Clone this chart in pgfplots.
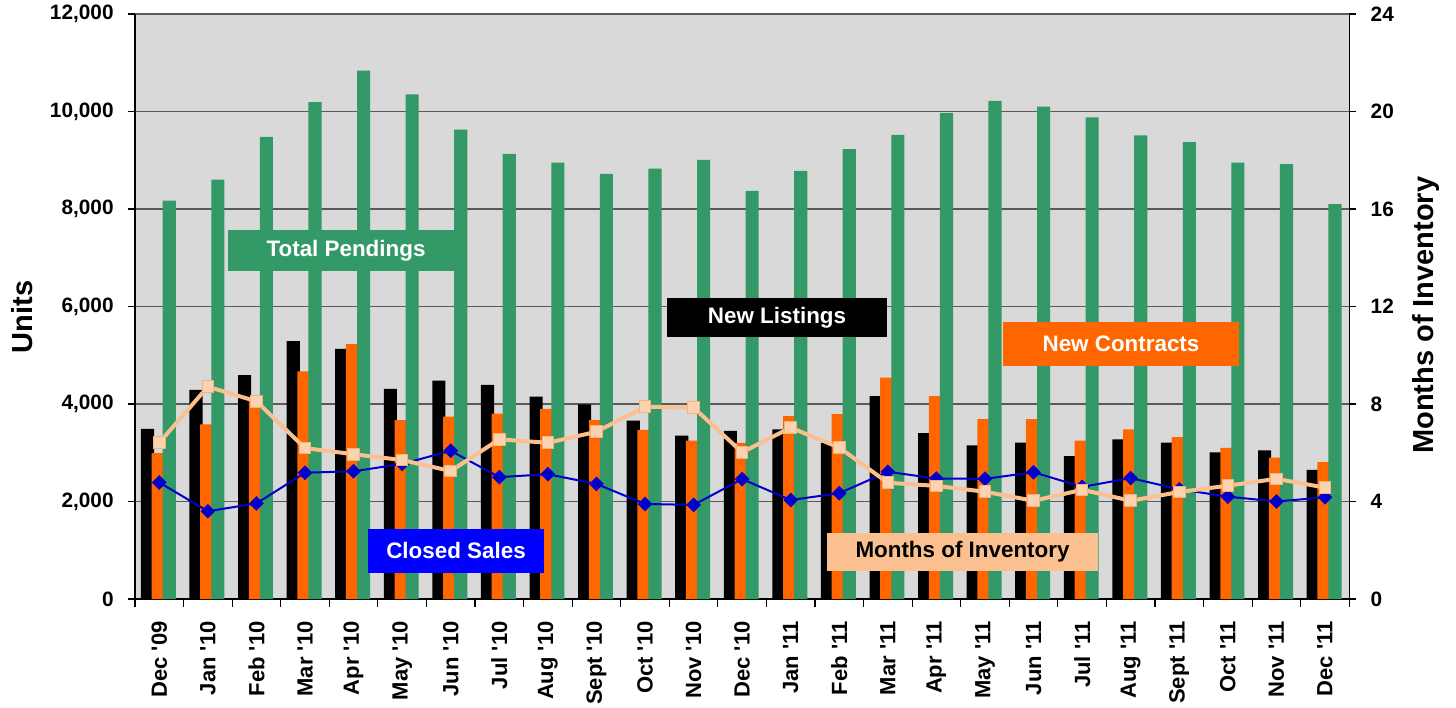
\documentclass[border=0pt]{standalone}
\usepackage{pgfplots}
\pgfplotsset{compat=1.18}
\usepackage{pgfplotstable}
\usepackage{fontspec}
\setmainfont{Liberation Sans}
\definecolor{bggray}{HTML}{D9D9D9}
\definecolor{tpgreen}{HTML}{339966}
\definecolor{ncorange}{HTML}{FF6600}
\definecolor{csblue}{HTML}{0000CC}
\definecolor{boxblue}{HTML}{0000FF}
\definecolor{moipeach}{HTML}{FAC090}
\definecolor{moifill}{HTML}{FBD3B0}
\definecolor{moiedge}{HTML}{F5B27A}
\definecolor{gridgray}{HTML}{5A5A5A}

\pgfplotstableread{
x NL NC TP CS MOI
0 3490 2990 8170 2390 6.41
1 4290 3580 8600 1800 8.71
2 4590 4120 9480 1960 8.11
3 5290 4670 10190 2590 6.19
4 5130 5230 10840 2620 5.94
5 4310 3670 10350 2770 5.70
6 4480 3740 9630 3040 5.25
7 4390 3800 9130 2500 6.55
8 4150 3900 8950 2560 6.41
9 3990 3670 8720 2360 6.86
10 3660 3470 8830 1950 7.89
11 3350 3250 9010 1930 7.85
12 3450 3200 8370 2460 6.02
13 3480 3750 8780 2030 7.03
14 3200 3790 9230 2170 6.21
15 4160 4540 9520 2610 4.77
16 3400 4160 9970 2470 4.64
17 3150 3690 10220 2465 4.40
18 3210 3690 10100 2600 4.03
19 2930 3250 9880 2300 4.48
20 3275 3480 9510 2480 4.03
21 3210 3320 9370 2250 4.39
22 3010 3100 8950 2100 4.65
23 3050 2900 8920 2000 4.93
24 2650 2810 8100 2085 4.57
}\data

\begin{document}
\begin{tikzpicture}
\begin{axis}[name=main,
  width=607.15pt, height=292.5pt, scale only axis,
  xmin=-0.5, xmax=24.5, ymin=0, ymax=12000,
  axis background/.style={fill=bggray},
  axis x line*=bottom, axis y line*=left,
  axis line style={-, black, line width=0.8pt},
  ytick={0,2000,...,12000},
  ymajorgrids, grid style={gridgray, line width=0.6pt},
  xtick={0,...,24},
  xticklabels={Dec \textquotesingle09, Jan \textquotesingle10, Feb \textquotesingle10, Mar \textquotesingle10, Apr \textquotesingle10, May \textquotesingle10, Jun \textquotesingle10, Jul \textquotesingle10, Aug \textquotesingle10, Sept \textquotesingle10, Oct \textquotesingle10, Nov \textquotesingle10, Dec \textquotesingle10, Jan \textquotesingle11, Feb \textquotesingle11, Mar \textquotesingle11, Apr \textquotesingle11, May \textquotesingle11, Jun \textquotesingle11, Jul \textquotesingle11, Aug \textquotesingle11, Sept \textquotesingle11, Oct \textquotesingle11, Nov \textquotesingle11, Dec \textquotesingle11},
  minor xtick={-0.5,0.5,...,24.5},
  major x tick style={draw=none},
  minor x tick style={black, line width=0.6pt},
  y tick style={black, line width=0.6pt},
  tick align=outside, major tick length=3.5pt, minor tick length=4pt,
  xticklabel style={rotate=90, anchor=east, inner sep=0pt, font=\bfseries\fontsize{11}{13}\selectfont},
  xticklabel shift=7.5pt,
  yticklabel style={inner sep=0pt, font=\bfseries\fontsize{10.4}{12}\selectfont},
  yticklabel shift=7pt,
  scaled y ticks=false,
  /pgf/number format/1000 sep={,},
  /pgf/number format/assume math mode=true,
  every axis y label/.style={at={(axis description cs:-0.093,0.482)}, rotate=90, anchor=center},
  ylabel={Units},
  label style={font=\bfseries\fontsize{14.5}{17}\selectfont},
]
\addplot[ybar, bar width=0.27, bar shift=-0.243, fill=black, draw=none] table[x=x,y=NL]{\data};
\addplot[ybar, bar width=0.27, bar shift=-0.022, fill=ncorange, draw=none] table[x=x,y=NC]{\data};
\addplot[ybar, bar width=0.27, bar shift=0.206, fill=tpgreen, draw=none] table[x=x,y=TP]{\data};
\addplot[csblue, line width=1pt, mark=square*, mark size=2.1pt, mark options={rotate=45, fill=csblue, draw=csblue, solid}] table[x=x,y=CS]{\data};

\node[fill=tpgreen, text=white, minimum width=118pt, minimum height=20.5pt, inner sep=0pt, font=\bfseries\fontsize{11.2}{13}\selectfont] at (axis cs:3.845,7149) {Total Pendings};
\node[fill=black, text=white, minimum width=110pt, minimum height=19.5pt, inner sep=0pt, font=\bfseries\fontsize{11.2}{13}\selectfont] at (axis cs:12.718,5774) {New Listings};
\node[fill=ncorange, text=white, minimum width=118pt, minimum height=22pt, inner sep=0pt, font=\bfseries\fontsize{11.2}{13}\selectfont] at (axis cs:19.80,5231) {New Contracts};
\node[fill=boxblue, text=white, minimum width=88pt, minimum height=22pt, inner sep=0pt, font=\bfseries\fontsize{11.2}{13}\selectfont] at (axis cs:6.109,985) {Closed Sales};
\node[fill=moipeach, text=black, minimum width=135.5pt, minimum height=19pt, inner sep=0pt, font=\bfseries\fontsize{11.2}{13}\selectfont] at (axis cs:16.537,964) {Months of Inventory};
\end{axis}

\begin{axis}[
  width=607.15pt, height=292.5pt, scale only axis,
  xmin=-0.5, xmax=24.5, ymin=0, ymax=24,
  axis x line=none, axis y line*=right,
  axis line style={-, black, line width=0.8pt},
  ytick={0,4,...,24},
  y tick style={black, line width=0.6pt},
  tick align=outside, major tick length=3.5pt,
  yticklabel style={inner sep=0pt, font=\bfseries\fontsize{10.4}{12}\selectfont},
  yticklabel shift=7pt,
  /pgf/number format/assume math mode=true,
  every axis y label/.style={at={(axis description cs:1.063,0.485)}, rotate=90, anchor=center},
  ylabel={Months of Inventory},
  label style={font=\bfseries\fontsize{14.5}{17}\selectfont},
]
\addplot[moipeach, line width=2pt, line join=round, mark=square*, mark size=2.9pt, mark options={fill=moifill, draw=moiedge, line width=0.5pt, solid}] table[x=x,y=MOI]{\data};
\end{axis}

\pgfresetboundingbox
\path[use as bounding box] ([xshift=-67.5pt,yshift=-54pt]main.south west) rectangle ([xshift=53.35pt,yshift=7pt]main.north east);
\end{tikzpicture}
\end{document}
